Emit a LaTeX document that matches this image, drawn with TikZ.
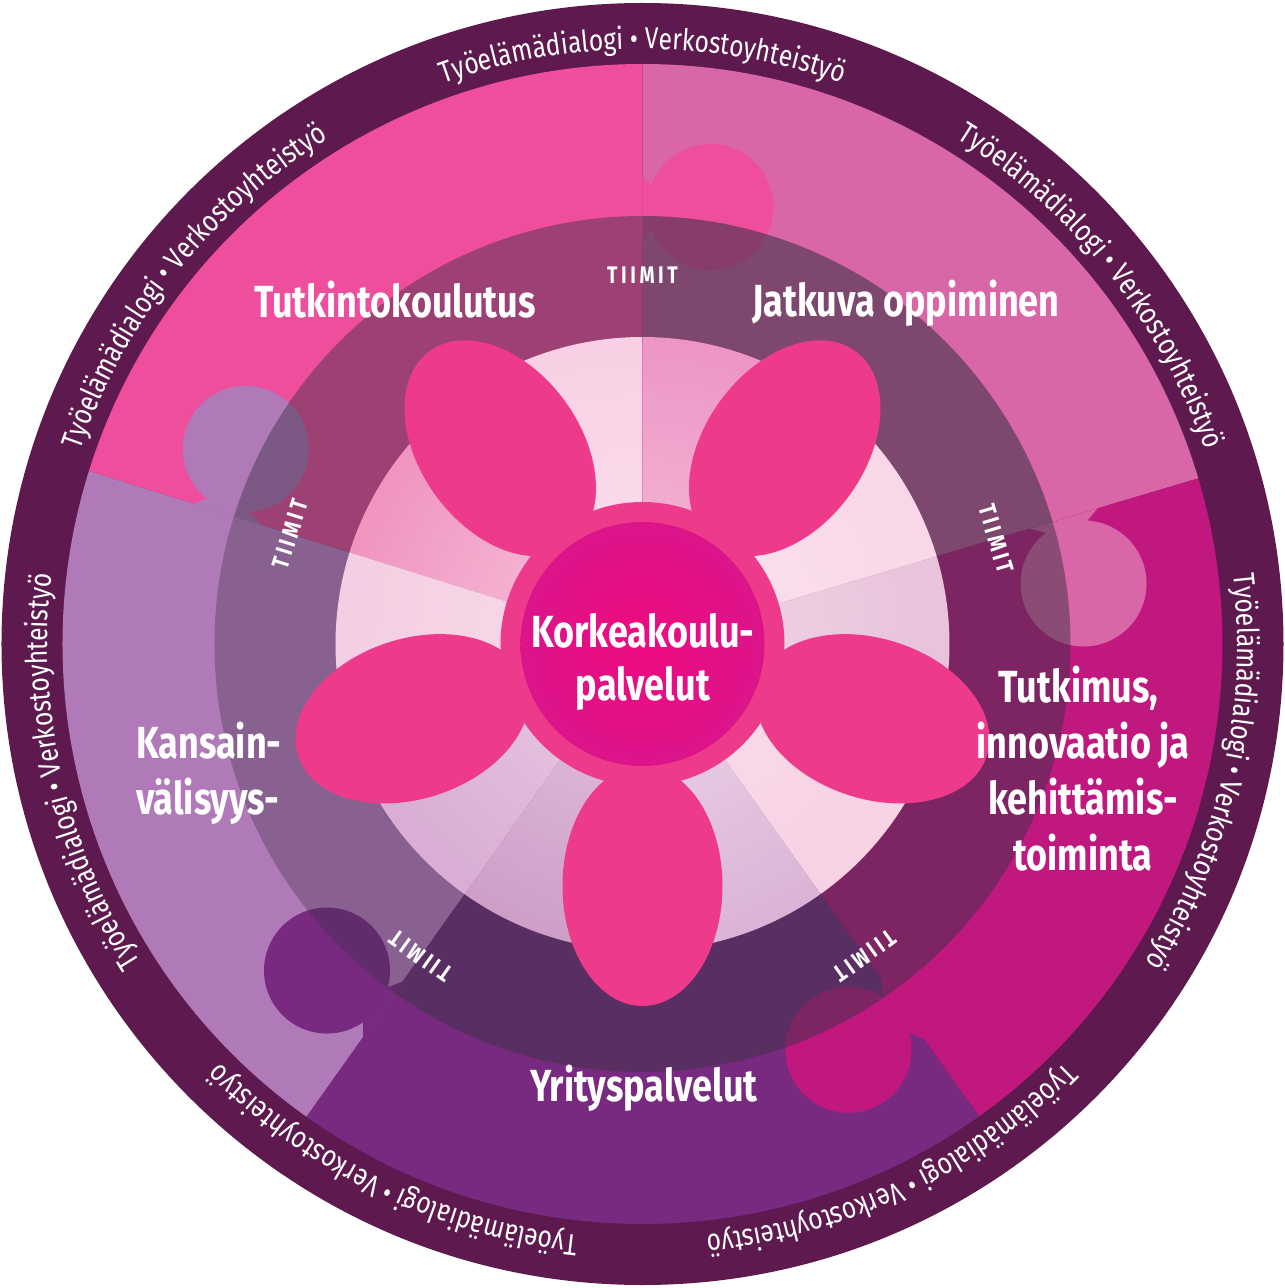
\documentclass[tikz,border=0pt]{standalone}
\usepackage{fontspec}
\usetikzlibrary{decorations.text}
\newfontfamily\labfont{Fira Sans}[FakeStretch=0.8]
\newfontfamily\ringfont{Fira Sans}[FakeStretch=0.82]
\newfontfamily\tiimfont{Fira Sans}[FakeStretch=0.8, LetterSpace=15]
\definecolor{ringc}{HTML}{5E1A4E}
\definecolor{pTR}{HTML}{D966A6}
\definecolor{pTL}{HTML}{EE4E9C}
\definecolor{pL}{HTML}{B07AB8}
\definecolor{pB}{HTML}{772A80}
\definecolor{pR}{HTML}{C0187F}
\definecolor{bandc}{HTML}{3C3246}
\definecolor{petalc}{HTML}{EE3A8A}
\definecolor{coreI}{HTML}{EE0A80}
\definecolor{coreO}{HTML}{DC148A}
% wheel colours (outer / inner)
\definecolor{w1o}{HTML}{F5BBD8}\definecolor{w1i}{HTML}{FBE3EF}
\definecolor{w2o}{HTML}{E8609F}\definecolor{w2i}{HTML}{F8C8E0}
\definecolor{w3o}{HTML}{EFBEDA}\definecolor{w3i}{HTML}{F8DDEA}
\definecolor{w4o}{HTML}{C68CC2}\definecolor{w4i}{HTML}{EBCDE5}
\definecolor{w5o}{HTML}{B676B0}\definecolor{w5i}{HTML}{E6C6E0}
\definecolor{w6o}{HTML}{C48FC2}\definecolor{w6i}{HTML}{F0D8EA}
\definecolor{w7o}{HTML}{F3C3DB}\definecolor{w7i}{HTML}{FADFEC}
\definecolor{w8o}{HTML}{DDAFCF}\definecolor{w8i}{HTML}{F2D6E7}
\definecolor{w9o}{HTML}{F6CBE0}\definecolor{w9i}{HTML}{FBE3EF}
\definecolor{w10o}{HTML}{E66AAE}\definecolor{w10i}{HTML}{F5C0DB}
\tikzset{
  lab/.style={font=\labfont\bfseries\fontsize{45}{54}\selectfont, text=white, inner sep=0pt},
  tiim/.style={font=\tiimfont\bfseries\fontsize{24}{26}\selectfont, text=white, inner sep=0pt},
  petal/.style={fill=petalc},
}
% piece sector: start angle, end angle, colour
\newcommand\piecesec[3]{\fill[#3] (0,0) -- (#1:580pt) arc[start angle=#1, end angle=#2, radius=580pt] -- cycle;}
% puzzle knob: boundary angle, inner neck, outer neck, centre, colour
\newcommand\knob[5]{\fill[#5, rotate=#1] (#3,0) -- (#4+21.5,-8.8) arc[start angle=70, end angle=-250, radius=63pt] -- (#2,0) -- cycle;}
% band segment: start, end, opacity
\newcommand\bandseg[3]{\fill[bandc, fill opacity=#3] (#1:300pt) arc[start angle=#1, end angle=#2, radius=300pt] -- (#2:428pt) arc[start angle=#2, end angle=#1, radius=428pt] -- cycle;}
% wheel segment: start, end, outer colour, inner colour
\newcommand\wheelseg[4]{\begin{scope}\clip (0,0) -- (#1:307pt) arc[start angle=#1, end angle=#2, radius=307pt] -- cycle;
  \shade[inner color=#4, outer color=#3] (0,0) circle[radius=614pt];\end{scope}}
\begin{document}
\begin{tikzpicture}[x=1pt, y=1pt]
\useasboundingbox (-642.5,-644) rectangle (642.5,644);
\fill[white] (-642.5,-644) rectangle (642.5,644);
% outer ring
\fill[ringc] (0,0) circle[radius=641pt];
% puzzle pieces
\piecesec{16.6}{90}{pTR}
\piecesec{90}{162.65}{pTL}
\piecesec{162.65}{234.6}{pL}
\piecesec{234.6}{305.5}{pB}
\piecesec{305.5}{376.6}{pR}
% knobs
\knob{16.6}{404}{475}{440}{pTR}
\knob{90}{402}{467}{437}{pTL}
\knob{162.65}{400}{471}{437}{pL}
\knob{234.6}{414}{482}{449}{pB}
\knob{305.5}{410}{485}{450}{pR}
% TIIMIT band
\bandseg{90}{162.65}{0.45}
\bandseg{16.6}{90}{0.58}
\bandseg{-54.5}{16.6}{0.5}
\bandseg{234.6}{305.5}{0.5}
\bandseg{162.65}{234.6}{0.34}
% inner wheel
\wheelseg{90}{126.3}{w1o}{w1i}
\wheelseg{126.3}{162.65}{w2o}{w2i}
\wheelseg{162.65}{198.6}{w3o}{w3i}
\wheelseg{198.6}{234.6}{w4o}{w4i}
\wheelseg{234.6}{270}{w5o}{w5i}
\wheelseg{270}{305.5}{w6o}{w6i}
\wheelseg{305.5}{341.1}{w7o}{w7i}
\wheelseg{341.1}{376.6}{w8o}{w8i}
\wheelseg{376.6}{413.3}{w9o}{w9i}
\wheelseg{413.3}{450}{w10o}{w10i}
% flower
\foreach \a in {-90,-18,54,126,198}
  \fill[petal, rotate=\a] (242,0) ellipse[x radius=120pt, y radius=80pt];
\fill[petalc] (0,0) circle[radius=142pt];
\shade[inner color=coreI, outer color=coreO] (0,0) circle[radius=122pt];
% ring text
\foreach \k in {0,...,6}{
  \pgfmathsetmacro\c{90-51.428571*\k}
  \path[decorate, decoration={text along path, text align=center, text color=white,
    text={|\ringfont\fontsize{30}{32}\selectfont|Työelämädialogi • Verkostoyhteistyö}}]
    ({\c+25}:595pt) arc[start angle=\c+25, end angle=\c-25, radius=595pt];
}
% TIIMIT labels
\foreach \a/\r/\n in {90/369/t1, 16.6/369/t2, -54.5/383/t3, 234.6/383/t4, 162.65/369/t5}
  \node[tiim, rotate=\a-90] (\n) at (\a:\r pt) {TIIMIT};
% labels
\node[lab, anchor=base] (tutk) at (-247.5,326) {Tutkintokoulutus};
\node[lab, anchor=base] (jatk) at (263.5,327) {Jatkuva oppiminen};
\node[lab, anchor=base] (kk1) at (0.5,-3) {Korkeakoulu-};
\node[lab, anchor=base] (kk2) at (0.5,-56) {palvelut};
\node[lab, anchor=base] (ti1) at (436,-58) {Tutkimus,};
\node[lab, anchor=base] (ti2) at (440.5,-114) {innovaatio ja};
\node[lab, anchor=base] (ti3) at (440.5,-170) {kehittämis-};
\node[lab, anchor=base] (ti4) at (440.5,-226) {toiminta};
\node[lab, anchor=base west] (kv1) at (-506.5,-114) {Kansain-};
\node[lab, anchor=base west] (kv2) at (-506.5,-170) {välisyys-};
\node[lab, anchor=base] (yr) at (1.5,-457) {Yrityspalvelut};
\end{tikzpicture}
\end{document}
